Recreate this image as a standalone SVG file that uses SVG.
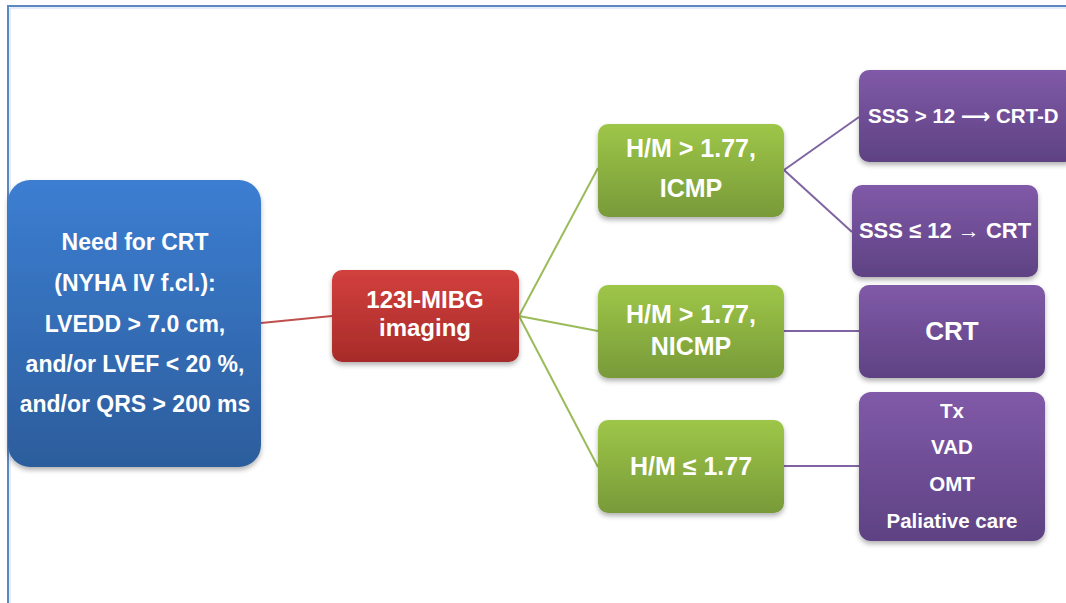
<svg xmlns="http://www.w3.org/2000/svg" width="1066" height="603" viewBox="0 0 1066 603">
<defs>
<linearGradient id="gBlue" x1="0" y1="0" x2="0" y2="1"><stop offset="0" stop-color="#3C7ED2"/><stop offset="1" stop-color="#2C5D9C"/></linearGradient>
<linearGradient id="gRed" x1="0" y1="0" x2="0" y2="1"><stop offset="0" stop-color="#D2403D"/><stop offset="1" stop-color="#A72B29"/></linearGradient>
<linearGradient id="gGreen" x1="0" y1="0" x2="0" y2="1"><stop offset="0" stop-color="#9EC648"/><stop offset="1" stop-color="#789A39"/></linearGradient>
<linearGradient id="gPurple" x1="0" y1="0" x2="0" y2="1"><stop offset="0" stop-color="#805AA8"/><stop offset="1" stop-color="#5E4283"/></linearGradient>
<filter id="sh" x="-10%" y="-10%" width="120%" height="130%"><feDropShadow dx="0" dy="3" stdDeviation="2.5" flood-color="#000" flood-opacity="0.3"/></filter>
<style>
text{font-family:"Liberation Sans","DejaVu Sans",Arial,sans-serif;font-weight:bold;fill:#fff;text-anchor:middle}
.b{font-size:23px}
.r{font-size:24px}
.g{font-size:25px}
.p{font-size:22px}
.s{font-size:20.5px}
.c{font-size:26px}
.ln{fill:none;stroke-width:2}
</style>
</defs>
<g id="frame">
<path d="M8,603 V6 H1066" fill="none" stroke="#5B87C2" stroke-width="2"/>
<path d="M10,603 V8 H1066" fill="none" stroke="#C9DAF0" stroke-width="1"/>
</g>
<g id="connectors">
<line class="ln" x1="261" y1="323" x2="332" y2="316" stroke="#C0504D"/>
<line class="ln" x1="519" y1="316" x2="598" y2="168" stroke="#9BBB59"/>
<line class="ln" x1="519" y1="316" x2="598" y2="331" stroke="#9BBB59"/>
<line class="ln" x1="519" y1="316" x2="598" y2="467" stroke="#9BBB59"/>
<line class="ln" x1="784" y1="170" x2="859" y2="117" stroke="#8064A2"/>
<line class="ln" x1="784" y1="170" x2="852" y2="232" stroke="#8064A2"/>
<line class="ln" x1="784" y1="331" x2="859" y2="331" stroke="#8064A2"/>
<line class="ln" x1="784" y1="466" x2="859" y2="466" stroke="#8064A2"/>
</g>
<g id="n-need">
<rect x="8" y="180" width="253" height="287" rx="22" fill="url(#gBlue)" filter="url(#sh)"/>
<text class="b" x="135" y="250">Need for CRT</text>
<text class="b" x="135" y="291">(NYHA IV f.cl.):</text>
<text class="b" x="135" y="332">LVEDD &gt; 7.0 cm,</text>
<text class="b" x="135" y="372">and/or LVEF &lt; 20 %,</text>
<text class="b" x="135" y="412">and/or QRS &gt; 200 ms</text>
</g>
<g id="n-mibg">
<rect x="332" y="270" width="187" height="92" rx="10" fill="url(#gRed)" filter="url(#sh)"/>
<text class="r" x="425" y="308">123I-MIBG</text>
<text class="r" x="425" y="336">imaging</text>
</g>
<g id="n-icmp">
<rect x="598" y="124" width="186" height="93" rx="10" fill="url(#gGreen)" filter="url(#sh)"/>
<text class="g" x="691" y="157">H/M &gt; 1.77,</text>
<text class="g" x="691" y="197">ICMP</text>
</g>
<g id="n-nicmp">
<rect x="598" y="285" width="186" height="93" rx="10" fill="url(#gGreen)" filter="url(#sh)"/>
<text class="g" x="691" y="323">H/M &gt; 1.77,</text>
<text class="g" x="691" y="355">NICMP</text>
</g>
<g id="n-low">
<rect x="598" y="420" width="186" height="93" rx="10" fill="url(#gGreen)" filter="url(#sh)"/>
<text class="g" x="691" y="475">H/M ≤ 1.77</text>
</g>
<g id="n-crtd">
<rect x="859" y="70" width="216" height="92" rx="10" fill="url(#gPurple)" filter="url(#sh)"/>
<text x="868" y="123" style="text-anchor:start;font-size:20.5px">SSS &gt; 12 ⟶ CRT-D</text>
</g>
<g id="n-crt1">
<rect x="852" y="185" width="186" height="92" rx="10" fill="url(#gPurple)" filter="url(#sh)"/>
<text class="p" x="945" y="238">SSS ≤ 12 → CRT</text>
</g>
<g id="n-crt2">
<rect x="859" y="285" width="186" height="93" rx="10" fill="url(#gPurple)" filter="url(#sh)"/>
<text class="c" x="952" y="340">CRT</text>
</g>
<g id="n-tx">
<rect x="859" y="392" width="186" height="149" rx="12" fill="url(#gPurple)" filter="url(#sh)"/>
<text class="s" x="952" y="418">Tx</text>
<text class="s" x="952" y="454">VAD</text>
<text class="s" x="952" y="491">OMT</text>
<text class="s" x="952" y="528">Paliative care</text>
</g>
</svg>
